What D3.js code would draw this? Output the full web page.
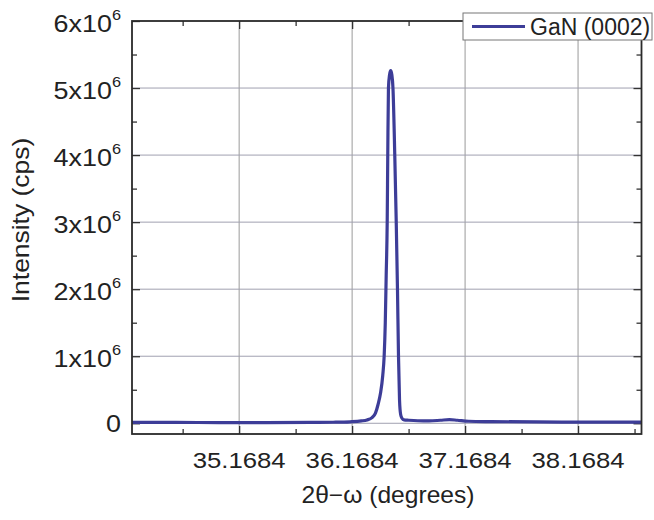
<!DOCTYPE html>
<html>
<head>
<meta charset="utf-8">
<script src="https://cdn.jsdelivr.net/npm/d3@7"></script>
<style>
  body { margin: 0; background: #fff; }
  text { font-family: "Liberation Sans", Arial, sans-serif; fill: #222; }
</style>
</head>
<body>
<script>
var w = 654;   // page width
var h = 520;   // page height

// plot area edges
var plotLeft = 132, plotRight = 641.5, plotTop = 21, plotBottom = 434;

// scan data: 2theta-omega position (degrees) and intensity (cps)
var twoTheta = [34.22, 34.6, 35.0, 35.4, 35.8, 36.0, 36.15, 36.25, 36.3, 36.345,
                36.375, 36.398, 36.42, 36.44, 36.452, 36.462, 36.470, 36.479, 36.484, 36.490,
                36.500, 36.510, 36.520, 36.530, 36.546, 36.559, 36.570, 36.579, 36.588, 36.598,
                36.61, 36.628, 36.67, 36.75, 36.85, 36.95, 37.03, 37.10, 37.2, 37.4,
                37.8, 38.2, 38.73];
var intensity = [12000, 12000, 11000, 11000, 12000, 15000, 22000, 35000, 50000, 85000,
                 150000, 280000, 450000, 720000, 1000000, 1500000, 2200000, 3000000, 4000000, 5000000,
                 5200000, 5260000, 5200000, 5000000, 4000000, 3000000, 2000000, 1000000, 350000, 130000,
                 75000, 50000, 45000, 38000, 35000, 45000, 55000, 45000, 30000, 25000,
                 20000, 18000, 18000];

// axis ticks
var xTicks = [35.1684, 36.1684, 37.1684, 38.1684];
var xMinorTicks = [34.6684, 35.6684, 36.6684, 37.6684, 38.6684];
var yTicks = [0, 1e6, 2e6, 3e6, 4e6, 5e6, 6e6];
var yMinorTicks = [5e5, 1.5e6, 2.5e6, 3.5e6, 4.5e6, 5.5e6];

var seriesName = "GaN (0002)";
var lineColor = "#3d3d98";

var xScale = d3.scaleLinear().domain([34.22, 38.73]).range([plotLeft, plotRight]);
var yScale = d3.scaleLinear().domain([-1.6e5, 6e6]).range([plotBottom, plotTop]);

var svg = d3.select("body")
            .append("svg")
            .attr("width", w)
            .attr("height", h);

svg.append("rect").attr("width", w).attr("height", h).attr("fill", "#fff");

// grid lines at the major ticks
svg.selectAll(".vgrid")
    .data(xTicks)
    .enter()
    .append("line")
    .attr("x1", function(d) { return xScale(d); })
    .attr("x2", function(d) { return xScale(d); })
    .attr("y1", plotTop)
    .attr("y2", plotBottom)
    .attr("stroke", "#9a9a9a")
    .attr("stroke-width", 1);

svg.selectAll(".hgrid")
    .data(yTicks.slice(0, -1))
    .enter()
    .append("line")
    .attr("x1", plotLeft)
    .attr("x2", plotRight)
    .attr("y1", function(d) { return yScale(d); })
    .attr("y2", function(d) { return yScale(d); })
    .attr("stroke", "#a0a0b0")
    .attr("stroke-width", 1);

// ticks on all four sides, pointing inward
function addTicks(axisFn, scale, ticks, size, transform) {
    svg.append("g")
        .attr("transform", transform)
        .attr("color", "#333")
        .call(axisFn(scale).tickValues(ticks).tickSize(-size).tickSizeOuter(0).tickFormat(""))
        .call(function(g) { g.select(".domain").remove(); })
        .selectAll("line").attr("stroke-width", 1.3);
}
addTicks(d3.axisBottom, xScale, xTicks, 8, "translate(0," + plotBottom + ")");
addTicks(d3.axisBottom, xScale, xMinorTicks, 5, "translate(0," + plotBottom + ")");
addTicks(d3.axisTop, xScale, xTicks, 8, "translate(0," + plotTop + ")");
addTicks(d3.axisTop, xScale, xMinorTicks, 5, "translate(0," + plotTop + ")");
addTicks(d3.axisLeft, yScale, yTicks, 8, "translate(" + plotLeft + ",0)");
addTicks(d3.axisLeft, yScale, yMinorTicks, 5, "translate(" + plotLeft + ",0)");
addTicks(d3.axisRight, yScale, yTicks, 8, "translate(" + plotRight + ",0)");
addTicks(d3.axisRight, yScale, yMinorTicks, 5, "translate(" + plotRight + ",0)");

// the scan
var line = d3.line()
    .x(function(d, i) { return xScale(twoTheta[i]); })
    .y(function(d) { return yScale(d); })
    .curve(d3.curveMonotoneX);

svg.append("path")
    .datum(intensity)
    .attr("d", line)
    .attr("fill", "none")
    .attr("stroke", lineColor)
    .attr("stroke-width", 3.2)
    .attr("stroke-linejoin", "round");

// frame
svg.append("rect")
    .attr("x", plotLeft)
    .attr("y", plotTop)
    .attr("width", plotRight - plotLeft)
    .attr("height", plotBottom - plotTop)
    .attr("fill", "none")
    .attr("stroke", "#2a2a2a")
    .attr("stroke-width", 1.8);

// x tick labels
svg.selectAll(".xlabel")
    .data(xTicks)
    .enter()
    .append("text")
    .attr("transform", function(d) { return "translate(" + xScale(d) + ",468) scale(1.17,1)"; })
    .attr("text-anchor", "middle")
    .attr("font-size", "22px")
    .text(function(d) { return d.toFixed(4); });

// y tick labels with superscript exponent
var ylab = svg.selectAll(".ylabel")
    .data(yTicks)
    .enter()
    .append("text")
    .attr("transform", function(d) {
        return "translate(121," + (yScale(d) + (d === 0 ? 8.4 : 11)) + ") scale(1.17,1)";
    })
    .attr("text-anchor", "end")
    .attr("font-size", "23px");
ylab.append("tspan")
    .text(function(d) { return d === 0 ? "0" : (d / 1e6) + "x10"; });
ylab.filter(function(d) { return d !== 0; })
    .append("tspan")
    .attr("dy", -12)
    .attr("font-size", "14px")
    .text("6");

// axis titles
svg.append("text")
    .attr("transform", "translate(388,503) scale(1.07,1)")
    .attr("text-anchor", "middle")
    .attr("font-size", "23px")
    .text("2θ−ω (degrees)");

svg.append("text")
    .attr("transform", "translate(29,220) rotate(-90) scale(1.15,1)")
    .attr("text-anchor", "middle")
    .attr("font-size", "23px")
    .text("Intensity (cps)");

// legend
var legend = svg.append("g");
legend.append("rect")
    .attr("x", 463)
    .attr("y", 13)
    .attr("width", 189)
    .attr("height", 27)
    .attr("fill", "#fff")
    .attr("stroke", "#777")
    .attr("stroke-width", 1);
legend.append("line")
    .attr("x1", 472)
    .attr("x2", 525)
    .attr("y1", 26.5)
    .attr("y2", 26.5)
    .attr("stroke", lineColor)
    .attr("stroke-width", 3);
legend.append("text")
    .attr("x", 530)
    .attr("y", 35)
    .attr("font-size", "23px")
    .text(seriesName);
</script>
</body>
</html>
